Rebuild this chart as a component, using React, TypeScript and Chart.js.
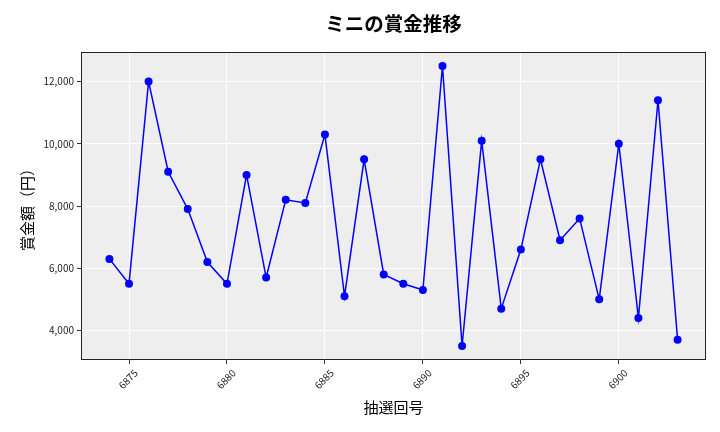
import React, { useEffect, useRef } from "react";
import { Chart, registerables } from "chart.js";

Chart.register(...registerables);

const draws: number[] = [6874, 6875, 6876, 6877, 6878, 6879, 6880, 6881, 6882, 6883, 6884, 6885, 6886, 6887, 6888, 6889, 6890, 6891, 6892, 6893, 6894, 6895, 6896, 6897, 6898, 6899, 6900, 6901, 6902, 6903];
const prizes: number[] = [6300, 5500, 12000, 9100, 7900, 6200, 5500, 9000, 5700, 8200, 8100, 10300, 5100, 9500, 5800, 5500, 5300, 12500, 3500, 10100, 4700, 6600, 9500, 6900, 7600, 5000, 10000, 4400, 11400, 3700];
const xTicks: number[] = [6875, 6880, 6885, 6890, 6895, 6900];
const yTicks: number[] = [4000, 6000, 8000, 10000, 12000];

const TITLE = "ミニの賞金推移";
const X_TITLE = "抽選回号";
const Y_TITLE = "賞金額（円）";
const FONT = "'Noto Sans CJK JP', 'Noto Sans', sans-serif";

export default function App() {
  const ref = useRef<HTMLCanvasElement | null>(null);

  useEffect(() => {
    document.body.style.margin = "0";
    const canvas = ref.current;
    if (!canvas) return;

    const framePlugin = {
      id: "frame",
      beforeDraw(chart: any) {
        const { ctx, chartArea: a } = chart;
        ctx.save();
        ctx.fillStyle = "#ffffff";
        ctx.fillRect(0, 0, chart.width, chart.height);
        ctx.fillStyle = "#EEEEEE";
        ctx.fillRect(a.left, a.top, a.right - a.left, a.bottom - a.top);
        ctx.restore();
      },
      afterDraw(chart: any) {
        const { ctx, chartArea: a } = chart;
        ctx.save();
        ctx.strokeStyle = "#222222";
        ctx.lineWidth = 1;
        ctx.strokeRect(a.left + 0.5, a.top + 0.5, a.right - a.left - 1, a.bottom - a.top - 1);
        ctx.fillStyle = "#000000";
        ctx.font = `bold 19.5px ${FONT}`;
        ctx.textAlign = "center";
        ctx.textBaseline = "middle";
        ctx.fillText(TITLE, (a.left + a.right) / 2, 24);
        ctx.restore();
      },
    };

    const chart = new Chart(canvas, {
      type: "line",
      data: {
        datasets: [
          {
            data: draws.map((d, i) => ({ x: d, y: prizes[i] })),
            borderColor: "#0000FF",
            backgroundColor: "#0000FF",
            borderWidth: 1.5,
            pointRadius: 4,
            pointHoverRadius: 4,
            pointBorderWidth: 0,
            tension: 0,
          },
        ],
      },
      options: {
        animation: false,
        responsive: false,
        devicePixelRatio: 1,
        layout: { padding: { top: 52, right: 14, left: 0, bottom: 0 } },
        plugins: { legend: { display: false }, title: { display: false }, tooltip: { enabled: false } },
        scales: {
          x: {
            type: "linear",
            min: 6872.55,
            max: 6904.45,
            afterBuildTicks(scale: any) {
              scale.ticks = xTicks.map((v) => ({ value: v }));
            },
            afterFit(scale: any) {
              scale.height = 72;
            },
            ticks: {
              minRotation: 45,
              maxRotation: 45,
              color: "#222",
              font: { family: FONT, size: 10 },
              padding: 3,
              labelOffset: 7,
              callback: (v: any) => String(v),
            },
            grid: { color: "#ffffff", lineWidth: 1, tickColor: "#333", tickLength: 4, drawTicks: true },
            border: { display: false },
            title: {
              display: true,
              text: X_TITLE,
              color: "#000",
              font: { family: FONT, size: 15 },
              padding: { top: 0, bottom: 16 },
            },
          },
          y: {
            type: "linear",
            min: 3050,
            max: 12950,
            afterBuildTicks(scale: any) {
              scale.ticks = yTicks.map((v) => ({ value: v }));
            },
            afterFit(scale: any) {
              scale.width = 81;
            },
            ticks: {
              color: "#222",
              font: { family: FONT, size: 10 },
              padding: 3,
              callback: (v: any) => Number(v).toLocaleString("en-US"),
            },
            grid: { color: "#ffffff", lineWidth: 1, tickColor: "#333", tickLength: 4 },
            border: { display: false },
            title: {
              display: true,
              text: Y_TITLE,
              color: "#000",
              font: { family: FONT, size: 15 },
              padding: { top: 18, bottom: 0 },
            },
          },
        },
      },
      plugins: [framePlugin],
    });
    return () => chart.destroy();
  }, []);

  return (
    <div style={{ position: "fixed", left: 0, top: 0, width: 720, height: 432 }}>
      <canvas ref={ref} width={720} height={432} style={{ width: 720, height: 432, display: "block" }} />
    </div>
  );
}
